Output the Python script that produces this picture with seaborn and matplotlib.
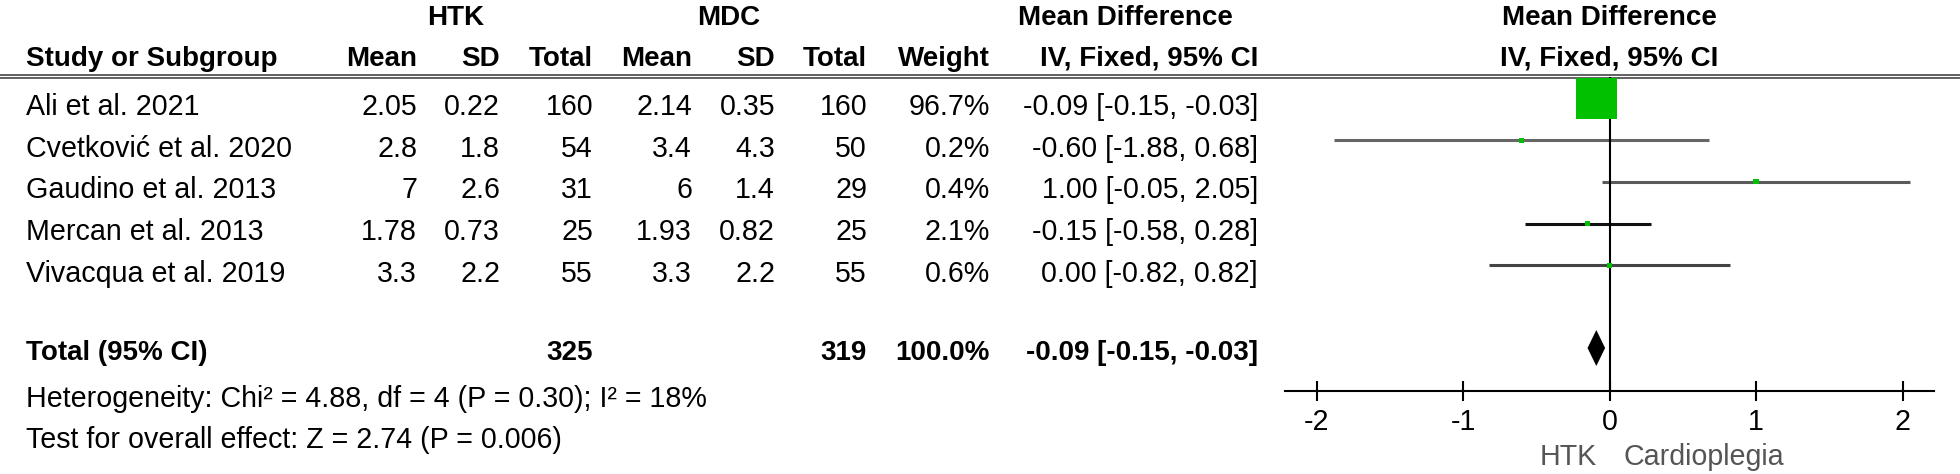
import numpy as np
import matplotlib
matplotlib.use("Agg")
import matplotlib.pyplot as plt
import seaborn as sns
from matplotlib.colors import Normalize

# ---------------- data ----------------
studies = ["Ali et al. 2021", "Cvetković et al. 2020", "Gaudino et al. 2013",
           "Mercan et al. 2013", "Vivacqua et al. 2019"]
htk_mean = [2.05, 2.8, 7, 1.78, 3.3]
htk_sd = [0.22, 1.8, 2.6, 0.73, 2.2]
htk_n = [160, 54, 31, 25, 55]
mdc_mean = [2.14, 3.4, 6, 1.93, 3.3]
mdc_sd = [0.35, 4.3, 1.4, 0.82, 2.2]
mdc_n = [160, 50, 29, 25, 55]
weight = [96.7, 0.2, 0.4, 2.1, 0.6]
md = [-0.09, -0.60, 1.00, -0.15, 0.00]
ci_lo = [-0.15, -1.88, -0.05, -0.58, -0.82]
ci_hi = [-0.03, 0.68, 2.05, 0.28, 0.82]

total_label = "Total (95% CI)"
total_htk_n = 325
total_mdc_n = 319
total_weight = 100.0
total_md = -0.09
total_lo = -0.15
total_hi = -0.03

heterogeneity = "Heterogeneity: Chi² = 4.88, df = 4 (P = 0.30); I² = 18%"
overall = "Test for overall effect: Z = 2.74 (P = 0.006)"
xticks = [-2, -1, 0, 1, 2]
favours_left = "HTK"
favours_right = "Cardioplegia"

# ---------------- style / layout ----------------
W, H = 1960, 474
sns.set_theme(style="white")
plt.rcParams["font.family"] = ["Liberation Sans", "DejaVu Sans"]
plt.rcParams["axes.unicode_minus"] = False
FS = 20.6
FS_B = 20
GREEN = "#00c000"

fig = plt.figure(figsize=(W / 100, H / 100), dpi=100)
ax_t = fig.add_axes([0, 0, 1, 1])
ax_t.set_xlim(0, W)
ax_t.set_ylim(H, 0)
ax_t.axis("off")

n = len(studies)
row_line = 98.5 + 41.7 * np.arange(n)
row_base = row_line + 16.5
total_line, total_base = 348, 360
hdr1, hdr2 = 25, 65.7

x_study = 26
x_cols = [417, 500, 593, 692, 775, 867, 990, 1258]
hdr_names = ["Mean", "SD", "Total", "Mean", "SD", "Total", "Weight", "IV, Fixed, 95% CI"]


def t(x, y, s, ha="left", bold=False, color="black"):
    ax_t.text(x, y, s, ha=ha, va="baseline", fontsize=FS_B if bold else FS,
              fontweight="bold" if bold else "normal", color=color)


# headers
t(456, hdr1, "HTK", ha="center", bold=True)
t(729, hdr1, "MDC", ha="center", bold=True)
t(1125, hdr1, "Mean Difference", ha="center", bold=True)
t(1609.5, hdr1, "Mean Difference", ha="center", bold=True)
t(x_study, hdr2, "Study or Subgroup", bold=True)
for x, s in zip(x_cols, hdr_names):
    t(x, hdr2, s, ha="right", bold=True)
t(1609.5, hdr2, "IV, Fixed, 95% CI", ha="center", bold=True)
ax_t.hlines([75.3, 78.3], 0, W, colors="#555555", lw=1.3)

# rows
for i in range(n):
    y = row_base[i]
    t(x_study, y, studies[i])
    vals = [f"{htk_mean[i]:g}", f"{htk_sd[i]:g}", f"{htk_n[i]}",
            f"{mdc_mean[i]:g}", f"{mdc_sd[i]:g}", f"{mdc_n[i]}",
            f"{weight[i]:.1f}%", f"{md[i]:.2f} [{ci_lo[i]:.2f}, {ci_hi[i]:.2f}]"]
    for x, s in zip(x_cols, vals):
        t(x, y, s, ha="right")

# total row
t(x_study, total_base, total_label, bold=True)
t(x_cols[2], total_base, f"{total_htk_n}", ha="right", bold=True)
t(x_cols[5], total_base, f"{total_mdc_n}", ha="right", bold=True)
t(x_cols[6], total_base, f"{total_weight:.1f}%", ha="right", bold=True)
t(x_cols[7], total_base, f"{total_md:.2f} [{total_lo:.2f}, {total_hi:.2f}]", ha="right", bold=True)
t(x_study, 407, heterogeneity)
t(x_study, 448, overall)

# ---------------- forest plot ----------------
x0, x1 = 1285, 1934
y_top, y_axis = 77, 391
zero_px, unit = 1609.5, 146.5
ax_f = fig.add_axes([x0 / W, 1 - y_axis / H, (x1 - x0) / W, (y_axis - y_top) / H])
ax_f.patch.set_alpha(0)

ci_colors = ["#555555", "#666666", "#5a5a5a", "#111111", "#444444"]
ax_f.hlines(row_line, ci_lo, ci_hi, colors=ci_colors, lw=2.2, zorder=2)
ax_f.axvline(0, color="black", lw=1.5, zorder=3)
sns.scatterplot(x=md, y=row_line, size=weight, sizes=(14, 870),
                size_norm=Normalize(vmin=2.1, vmax=96.7, clip=True),
                marker="s", color=GREEN, linewidth=0, legend=False,
                ax=ax_f, zorder=4, clip_on=False)
ax_f.fill([total_lo, total_md, total_hi, total_md],
          [total_line, total_line - 18, total_line, total_line + 18],
          color="black", zorder=4, lw=0)

ax_f.set_xlim((x0 - zero_px) / unit, (x1 - zero_px) / unit)
ax_f.set_ylim(y_axis, y_top)
ax_f.set_xlabel("")
ax_f.set_ylabel("")
ax_f.set_yticks([])
ax_f.set_xticks(xticks)
ax_f.set_xticklabels([f"{v:d}" for v in xticks])
for s in ["top", "right", "left"]:
    ax_f.spines[s].set_visible(False)
ax_f.spines["bottom"].set_color("black")
ax_f.spines["bottom"].set_linewidth(1.5)
ax_f.tick_params(axis="x", bottom=True, direction="inout", length=14.4,
                 width=1.5, pad=5, labelsize=FS, colors="black")

t(1597, 465, favours_left, ha="right", color="#555555")
t(1623, 465, favours_right, ha="left", color="#555555")

fig.savefig("out.png", dpi=100)
